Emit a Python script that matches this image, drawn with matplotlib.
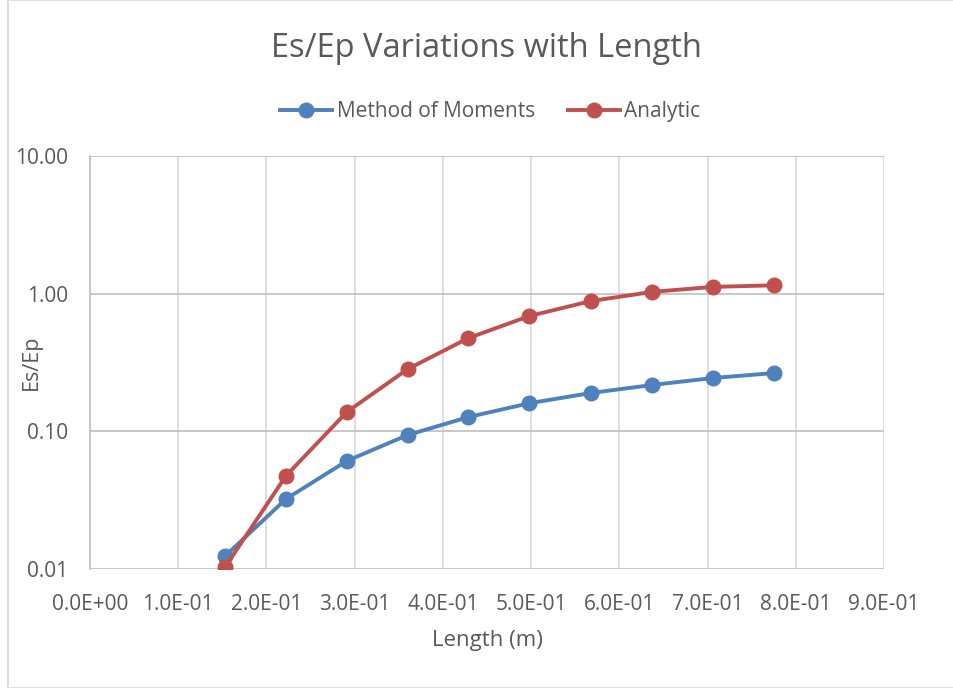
import numpy as np
import matplotlib.pyplot as plt
from matplotlib.ticker import FixedLocator, FuncFormatter
from matplotlib.patches import Rectangle

plt.rcParams['font.family'] = ['Open Sans', 'DejaVu Sans']

length = [0.153, 0.222, 0.291, 0.360, 0.429, 0.498, 0.568, 0.637, 0.706, 0.775]
mom = [0.0124, 0.0322, 0.0609, 0.094, 0.127, 0.160, 0.190, 0.217, 0.244, 0.265]
analytic = [0.0103, 0.0474, 0.138, 0.283, 0.476, 0.688, 0.884, 1.03, 1.12, 1.15]

xticks = [0.0, 0.1, 0.2, 0.3, 0.4, 0.5, 0.6, 0.7, 0.8, 0.9]
yticks = [0.01, 0.1, 1.0, 10.0]

txt = '#595959'
blue = '#4F81BD'
red = '#C0504D'

fig = plt.figure(figsize=(9.54, 6.88), dpi=100)
fig.patches.append(Rectangle((8/954, 0), 1 - 8/954, 1, transform=fig.transFigure,
                             fill=False, edgecolor='#D9D9D9', lw=1.2))
ax = fig.add_axes([90/954, 1 - 569/688, (884-90)/954, (569-156)/688])

ax.plot(length, mom, color=blue, lw=2.8, marker='o', ms=10.5, label='Method of Moments', zorder=3)
ax.plot(length, analytic, color=red, lw=2.8, marker='o', ms=10.5, label='Analytic', zorder=4)

ax.set_yscale('log')
ax.set_xlim(0, 0.9)
ax.set_ylim(0.01, 10)
ax.xaxis.set_major_locator(FixedLocator(xticks))
ax.yaxis.set_major_locator(FixedLocator(yticks))
ax.yaxis.set_minor_locator(FixedLocator([]))
ax.xaxis.set_major_formatter(FuncFormatter(lambda v, p: '%.1E' % v))
ax.yaxis.set_major_formatter(FuncFormatter(lambda v, p: '%.2f' % v))

ax.grid(True, axis='x', color='#D9D9D9', lw=1.2)
ax.grid(True, axis='y', color='#BFBFBF', lw=1.2)
for s in ['top', 'right', 'bottom']:
    ax.spines[s].set_visible(False)
ax.spines['left'].set_color('#BFBFBF')
ax.spines['left'].set_linewidth(1.2)
ax.tick_params(length=0, labelsize=15, colors=txt)
ax.tick_params(axis='x', pad=18)
ax.tick_params(axis='y', pad=16)

ax.set_xlabel('Length (m)', fontsize=16, color=txt, labelpad=11)
ax.set_ylabel('Es/Ep', fontsize=15.5, color=txt, va='center')
ax.yaxis.set_label_coords(-0.074, 0.5)

fig.text(0.51, 0.930, 'Es/Ep Variations with Length', ha='center', va='center',
         fontsize=23.5, color=txt)
fig.legend(loc='center', bbox_to_anchor=(0.514, 0.838), ncol=2, frameon=False,
           fontsize=15, labelcolor=txt, handlelength=2.5, handletextpad=0.2,
           columnspacing=1.6)

fig.savefig('out.png', dpi=100)
